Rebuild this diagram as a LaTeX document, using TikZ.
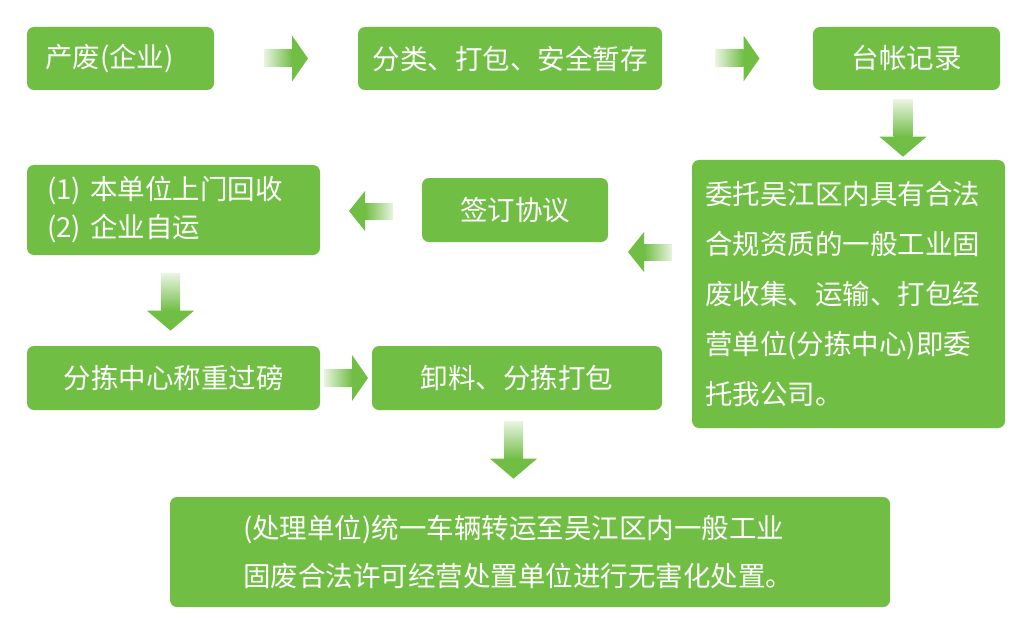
\documentclass[tikz,border=0pt]{standalone}
\usepackage{fontspec}
\setmainfont{Noto Sans CJK SC}
\usetikzlibrary{calc}
\definecolor{boxgreen}{RGB}{113,190,69}
\definecolor{shaftlight}{RGB}{232,244,224}
\tikzset{
  stepbox/.style={fill=boxgreen, draw=none, rounded corners=7pt, text=white,
    font=\fontsize{27.5}{50}\selectfont, inner ysep=0pt},
  pics/arrowright/.style={code={
    \shade[left color=shaftlight, right color=boxgreen] (-22,-8.5) rectangle (6,8.5);
    \fill[boxgreen] (6,-23) -- (22,0) -- (6,23) -- cycle;}},
  pics/arrowleft/.style={code={
    \shade[left color=boxgreen, right color=shaftlight] (-6,-8) rectangle (22,8);
    \fill[boxgreen] (-6,-20) -- (-22,0) -- (-6,20) -- cycle;}},
  pics/arrowdown/.style={code={
    \shade[top color=shaftlight, bottom color=boxgreen] (-9.5,-28) rectangle (9.5,9);
    \fill[boxgreen] (-23.5,9) -- (0,29) -- (23.5,9) -- cycle;}}
}
\begin{document}
\begin{tikzpicture}[x=1pt, y=-1pt]
  \useasboundingbox (0,0) rectangle (1032,631);
  % top row
  \node[stepbox, minimum width=187, minimum height=63, text width=151, inner xsep=18, align=left] (waste) at (120.5,58.5) {产废(企业)};
  \node[stepbox, minimum width=304, minimum height=63] (pack) at (510,58.5) {分类、打包、安全暂存};
  \node[stepbox, minimum width=187, minimum height=63] (ledger) at (906.5,58.5) {台帐记录};
  % entrusted unit (right)
  \node[stepbox, minimum width=313, minimum height=268, text width=287, inner xsep=13, align=left] (entrust) at (848.5,294)
    {委托吴江区内具有合法\\合规资质的一般工业固\\废收集、运输、打包经\\营单位(分拣中心)即委\\托我公司。};
  % middle row
  \node[stepbox, minimum width=186, minimum height=64] (sign) at (515,210) {签订协议};
  \node[stepbox, minimum width=293, minimum height=90, text width=253, inner xsep=20, align=left,
    font=\fontsize{27.5}{38}\selectfont] (collect) at (173.5,210) {(1) 本单位上门回收\\(2) 企业自运};
  % lower row
  \node[stepbox, minimum width=293, minimum height=64] (weigh) at (173.5,378) {分拣中心称重过磅};
  \node[stepbox, minimum width=290, minimum height=64] (unload) at (517,378) {卸料、分拣打包};
  % bottom box
  \node[stepbox, minimum width=720, minimum height=110, text width=574, inner xsep=73, align=left,
    font=\fontsize{27.5}{48}\selectfont] (dispose) at (530,552)
    {(处理单位)统一车辆转运至吴江区内一般工业\\固废合法许可经营处置单位进行无害化处置。};
  % block arrows
  \pic at ($(waste.east)!0.5!(pack.west)$) {arrowright};
  \pic at ($(pack.east)!0.5!(ledger.west)$) {arrowright};
  \pic at ($(ledger.south)+(-3.5,37.5)$) {arrowdown};
  \pic at ($(entrust.west)!0.5!(sign.east)$) {arrowleft};
  \pic at ($(sign.west)!0.5!(collect.east)+(0,1)$) {arrowleft};
  \pic at ($(collect.south)+(-3,46.5)$) {arrowdown};
  \pic at ($(weigh.east)!0.5!(unload.west)$) {arrowright};
  \pic at ($(unload.south)+(-3.5,39.5)$) {arrowdown};
\end{tikzpicture}
\end{document}
